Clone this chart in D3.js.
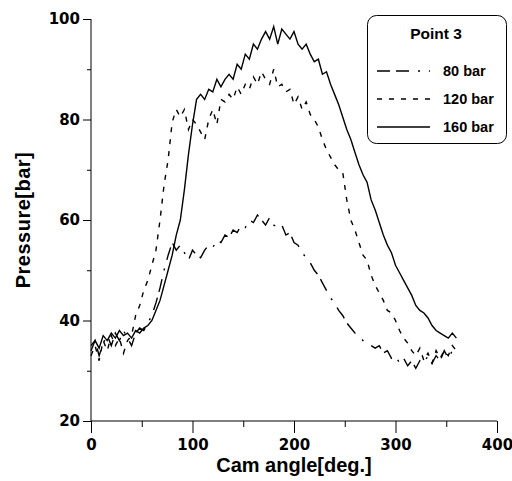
<!DOCTYPE html>
<html>
<head>
<meta charset="utf-8">
<script src="https://cdn.jsdelivr.net/npm/d3@7"></script>
<style>
    body { margin: 0; background: #fff; }
    svg { display: block; font-family: "Liberation Sans", Arial, sans-serif; font-weight: bold; }
</style>
</head>
<body>
<div id="chart"></div>
<script>
/*global d3*/

// Cam angle, sampled every 4 degrees from 0 to 360
var angleStep = 4;
var angles = d3.range(0, 361, angleStep);

// Pressure readings [bar]
var p80 = [34, 36, 33, 35.5, 37, 35, 37.5, 36, 38, 36.5, 35, 37.5, 38.5, 38, 39.5, 41, 43.5, 46.5, 50, 53,
    55.5, 54, 55, 53.5, 52, 54, 53, 52.5, 54, 55, 54.5, 56, 55.5, 57, 56.5, 58, 57.5, 59, 58.5, 60,
    59.5, 61, 60, 59, 60.5, 59, 58.5, 59, 57, 57.5, 55.5, 55, 53.5, 52.5, 51.5, 50, 49, 47.5, 46, 44.5,
    43.5, 42, 41, 39.5, 38.5, 37.5, 37, 36, 35.5, 35, 34.5, 35, 33.5, 34, 32.5, 33, 31.5, 32.5, 31, 32,
    30.5, 32, 31.5, 33, 31.5, 33, 32, 34, 32.5, 34, 33.5];

var p120 = [33, 35, 32, 36, 34, 37, 35, 36.5, 33.5, 36, 37, 41, 43, 46, 48, 51, 54, 60, 67, 72,
    79.5, 82, 80.5, 82, 78, 80, 79, 77.5, 76, 80, 82, 79, 84, 83.5, 85, 84, 86.5, 85, 87, 86,
    88.5, 87, 89.5, 88, 87, 90, 86.5, 87, 85.5, 86, 83, 84.5, 82, 83.5, 81, 80, 78.5, 76, 74, 72.5,
    71, 70, 69.5, 64, 60, 58, 55.5, 53, 52, 49, 47, 45.5, 44, 42, 41.5, 40, 38, 36.5, 35.5, 34,
    33, 34.5, 32, 33.5, 31.5, 34, 32.5, 34, 33, 35, 34];

var p160 = [35, 36, 34.5, 37, 36, 37.5, 36.5, 38, 37, 37.5, 36.5, 38, 37.5, 38.5, 39, 40, 42, 44, 47, 50,
    53, 57, 60, 66, 73, 79, 84, 85, 84, 86, 85.5, 88, 86.5, 88, 89, 88, 91, 90, 93, 92,
    95, 94, 96, 97.5, 96, 98.5, 95, 98, 97, 96, 97.5, 95, 94, 95, 93, 91.5, 92, 89, 89.5, 87,
    85, 83, 80.5, 78, 76, 73.5, 71, 69, 67.5, 64, 62, 59.5, 57, 55, 53.5, 51, 49.5, 48, 46.5, 45,
    43, 42, 41.5, 40.5, 39, 38, 37.5, 37, 36.5, 37.5, 36.5];

var seriesNames = ["80 bar", "120 bar", "160 bar"];
var seriesValues = [p80, p120, p160];
var seriesDash = ["13,6,13,9,2,9", "5,7", null];

var xTicks = [0, 100, 200, 300, 400];
var yTicks = [20, 40, 60, 80, 100];

(function () {
    "use strict";

    var width = 512,
        height = 481;

    var svg = d3.select("#chart").append("svg")
        .attr("width", width)
        .attr("height", height);

    var x = d3.scaleLinear().domain([0, 400]).range([91, 497]);
    var y = d3.scaleLinear().domain([20, 100]).range([421, 19]);

    // Axes: major ticks labelled, minor ticks halfway
    var xAxis = d3.axisBottom(x).tickValues(xTicks).tickSize(12).tickPadding(6);
    var xMinor = d3.axisBottom(x).tickValues([50, 150, 250, 350]).tickSize(6).tickFormat("");
    var yAxis = d3.axisLeft(y).tickValues(yTicks).tickSize(8).tickPadding(3);
    var yMinor = d3.axisLeft(y).tickValues([30, 50, 70, 90]).tickSize(4).tickFormat("");

    var gx = svg.append("g").attr("transform", "translate(0," + y(20) + ")").call(xAxis);
    svg.append("g").attr("transform", "translate(0," + y(20) + ")").call(xMinor)
        .select(".domain").remove();
    var gy = svg.append("g").attr("transform", "translate(" + x(0) + ",0)").call(yAxis);
    svg.append("g").attr("transform", "translate(" + x(0) + ",0)").call(yMinor)
        .select(".domain").remove();

    // plain axis lines (no end caps like d3's default path)
    gx.select(".domain").attr("d", "M" + x(0) + ",0H" + x(400));
    gy.select(".domain").attr("d", "M0," + y(20) + "V" + y(100));

    // the scan uses wide bold digits -> DejaVu bold fits them best
    svg.selectAll(".tick text")
        .style("font-size", "15px")
        .style("font-weight", "bold")
        .style("font-family", "\"DejaVu Sans\", sans-serif")
        .attr("fill", "#000");
    svg.selectAll(".tick line, .domain").attr("stroke", "#000").attr("stroke-width", 1);

    // Axis titles
    svg.append("text")
        .attr("x", 294)
        .attr("y", 472)
        .attr("text-anchor", "middle")
        .style("font-size", "20px")
        .text("Cam angle[deg.]");

    svg.append("text")
        .attr("transform", "translate(30,220) rotate(-90)")
        .attr("text-anchor", "middle")
        .style("font-size", "20px")
        .style("letter-spacing", "0.5px")
        .text("Pressure[bar]");

    // Curves
    var line = d3.line()
        .x(function (d, i) { return x(angles[i]); })
        .y(function (d) { return y(d); });

    seriesValues.forEach(function (vals, i) {
        var p = svg.append("path")
            .datum(vals)
            .attr("d", line)
            .attr("fill", "none")
            .attr("stroke", "#000")
            .attr("stroke-width", 1.4);
        if (seriesDash[i]) {
            p.attr("stroke-dasharray", seriesDash[i]);
        }
    });

    // Legend box
    var legend = svg.append("g");
    legend.append("rect")
        .attr("x", 367.5)
        .attr("y", 15.5)
        .attr("width", 139)
        .attr("height", 128)
        .attr("rx", 9)
        .attr("fill", "#fff")
        .attr("stroke", "#000")
        .attr("stroke-width", 1);

    legend.append("text")
        .attr("x", 436)
        .attr("y", 39)
        .attr("text-anchor", "middle")
        .style("font-size", "15.5px")
        .text("Point 3");

    seriesNames.forEach(function (name, i) {
        var ly = 71 + i * 28;
        var l = legend.append("line")
            .attr("x1", 377)
            .attr("x2", 430)
            .attr("y1", ly)
            .attr("y2", ly)
            .attr("stroke", "#000")
            .attr("stroke-width", 1.3);
        if (seriesDash[i]) {
            l.attr("stroke-dasharray", seriesDash[i]);
        }
        legend.append("text")
            .attr("x", 443)
            .attr("y", ly + 5)
            .style("font-size", "14.5px")
            .text(name);
    });
}());
</script>
</body>
</html>
